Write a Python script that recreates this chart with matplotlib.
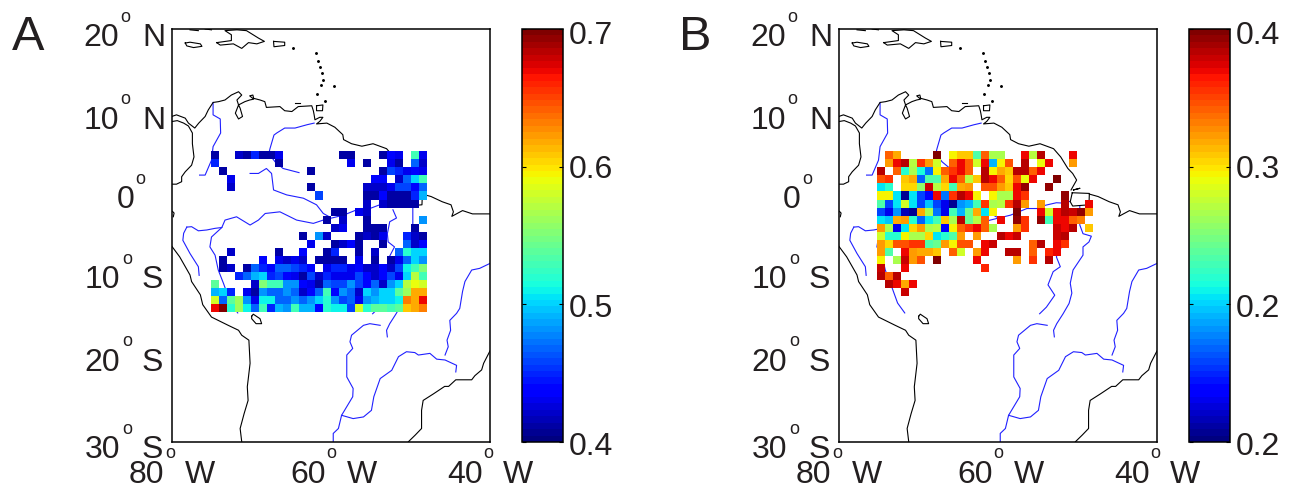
import numpy as np
import matplotlib
matplotlib.use('Agg')
import matplotlib.pyplot as plt

plt.rcParams['font.family'] = ['Liberation Sans', 'DejaVu Sans']

n = np.nan
W, H = 1298, 487
text_color = '#231f20'

# values per grid cell, north to south, west to east
values_a = [
    [.41,n,n,.42,.41,.45,.41,.41,.43,n,n,n,n,n,n,n,.41,.41,n,n,n,.41,.44,.43,n,.53,.43],
    [.45,n,n,n,n,n,n,n,.41,n,n,n,n,n,n,n,n,.43,n,.41,n,n,.43,.41,n,.47,.42],
    [n,.41,n,n,n,n,n,n,n,n,n,n,.41,n,n,n,n,n,n,n,n,.41,.46,.45,.43,.44,.43],
    [n,n,.43]+[n]*17+[.44,.44,n,.42,.47,.5,.53],
    [n,n,.42]+[n]*9+[.41]+[n]*6+[.42,.42,.42,.43,.46,.46,.44,.47],
    [n]*13+[.46]+[n]*5+[.41,.41,.44,.41,.41,.41,.45,.49],
    [n]*19+[.42,n,.42,.41,.41,.41,.41,n],
    [n]*15+[.41,.41,n,.43,.42]+[n]*7,
    [n]*14+[.41,n,.42,n,n,.41]+[n]*6+[.48],
    [n]*15+[.42,.43,n,n,.41,.41,.41,n,n,n,.41,n],
    [n]*11+[.41,n,.48,.42,n,n,n,.41,.42,.41,.43,n,n,.45,.42,.41],
    [n]*12+[.43,n,n,.41,.42,.44,.41,n,n,.41,n,n,.47,.42,.44],
    [n,n,.42,n,n,n,n,n,.41,n,n,.44,n,n,.41,.45,n,n,.41,n,.42,n,n,.47,.52,.5,.5],
    [n,.41,n,n,n,n,.44,n,.43,.42,.43,.42,n,.41,.41,.41,.41,n,.43,n,.41,n,.41,.43,.47,.5,.48],
    [n,.41,.42,n,.41,.47,.45,.44,.47,.47,.46,.45,.44,n,.43,.45,.45,.43,.44,.42,.42,.44,.42,.46,.51,.53,.55],
    [n,n,n,.45,.47,.49,.5,.45,.46,.44,.43,.41,.46,.42,.45,.43,.43,.43,.46,.44,.42,.44,.46,.43,.5,.57,.53],
    [.54,n,n,n,n,.42,.55,.53,.53,.48,.48,.44,.43,.41,.47,.46,.46,.48,.46,.44,.47,.42,.48,.5,.57,.59,.58],
    [.49,.5,.45,n,.43,.41,.48,.47,.47,.48,.47,.42,.44,.47,.53,.44,.48,.47,.42,.5,.48,.5,.5,.54,.56,.62,.62],
    [.58,.47,.54,.56,.48,.43,.51,.51,.47,.47,.48,.47,.48,.5,.52,.48,.46,.47,.43,.48,.49,.5,.5,.51,.63,.62,.67],
    [.67,.7,.52,.56,.51,.47,.53,.45,.49,.48,.53,.49,.49,.44,.52,.51,.51,.46,.58,.52,.54,.54,.53,.54,.61,.62,.63],
]

values_b = [
    [n,.36,.345,n,n,n,n,.4,n,.33,.34,.34,.29,.36,.31,.31,n,n,.38,.315,.39,n,n,n,.38,n,n],
    [n,.35,.38,.39,.315,.37,.35,.32,n,.36,.38,.36,.32,.38,.26,.33,.365,n,.39,n,.325,.38,n,n,.35,n,n],
    [.39,n,.36,.28,.31,.275,.25,.33,.36,.37,.38,.36,n,.39,.33,.345,.34,.39,.39,.36,.38]+[n]*6,
    [.365,.37,n,.34,.345,.245,.29,.29,.345,.38,.36,.315,.34,.39,.38,.36,.335,.365,.325,.38,n,n,.4,n,n,n,n],
    [.27,.28,n,.335,.335,.305,.385,.315,.335,.285,.345,.35,n,.365,.365,.35,.34,.38,.395,n,n,.395]+[n]*5,
    [.33,.33,.27,.205,.27,.24,.225,.38,.25,.37,.39,.38,.33,n,.33,.31,.31,.38,.37,n,n,n,n,.395,n,n,n],
    [.29,.24,.27,.32,.27,.24,.265,.24,.22,.205,.255,.26,.285,.37,.31,.315,.37,.39,.35,n,.35,n,n,.39,n,n,.38],
    [.24,.22,.255,.21,.205,.345,.31,.25,.22,.285,.26,.295,.345,.27,.33,n,n,.4,n,n,.38,.32,.38,.39,.385,.395,.35],
    [.27,.265,.345,.35,.28,.245,.27,.285,.34,.31,.39,.295,.315,.36,n,.38,n,.395,.37,n,.395,.285,.38,.38,.36,.355,n],
    [.35,.31,.22,.27,.335,.35,.31,.315,.225,.33,.36,.37,.38,.36,.31,n,n,.35,.37,n,n,n,.385,.38,.39,n,.34],
    [.32,.28,.28,.33,.31,.31,.335,.27,.28,.29,.35,n,.35,n,n,.39,.38,.385,n,n,n,n,.385,.39,n,n,n],
    [.35,.335,.365,.365,.37,.37,.29,.295,.35,.33,.365,.365,n,.38,.385,n,n,n,n,.36,.39,n,.38,.37,n,n,n],
    [.35,.29,n,.38,.35,.345,.345,.34,n,.36,.32,n,.35,.38,n,n,.39,.39,n,.36,n,.375,.38,n,n,n,n],
    [.33,n,.31,.385,.35,.365,n,.4,n,n,n,n,.38,n,n,n,n,.35,n,.37,n,.39,n,n,n,n,n],
    [.385,n,n,.38]+[n]*9+[.375]+[n]*13,
    [.39,.36,.39]+[n]*24,
    [n,.39,.38,.345,.38]+[n]*22,
    [n,n,n,.385]+[n]*23,
]

lon_edges_a = np.linspace(-75.06, -47.93, 28)
lon_edges_b = np.linspace(-75.14, -48.0, 28)
lat_edges = np.linspace(5.2, -14.34, 21)

# coastlines, lon/lat
north_coast = [(-80,9.4),(-79.4,9.6),(-78.3,9.2),(-77.9,8.6),(-77.1,8),(-76.6,8.6),(-75.8,9.4),(-75.4,10.2),
    (-74.8,11.1),(-74.1,11.2),(-73.3,11.4),(-72.5,12),(-71.6,12.4),(-71.2,12),(-71.8,11.4),(-71.6,10.8),
    (-72,9.8),(-71.6,9.1),(-71.1,9.4),(-71.4,10.4),(-71.6,10.8),(-70.8,11.2),(-70.2,11.4),(-69.7,11.5),
    (-70.2,11.9),(-69.8,12),(-69.7,11.6),(-68.9,11.4),(-68.3,11.2),(-68.1,10.5),(-66.4,10.6),(-65.8,10.1),
    (-64.9,10),(-64.1,10.6),(-62.4,10.7),(-62.2,10.1),(-62.1,9.6),(-62,9),(-61.4,9.3),(-61,9.3),(-61.4,8.8),
    (-61.8,8.5),(-60.5,8.6),(-59.5,8.1),(-58.5,7.2),(-58.4,6.6),(-57.4,6.1),(-56.1,5.8),(-54.7,6.1),(-53,5.5),
    (-52.1,4.5),(-51.2,3.1),(-50.6,2.5),(-50.1,1.7),(-50.8,0.5)]
brazil_north = [(-48.5,0),(-47.4,-0.3),(-46,-0.93),(-44.9,-1.3),(-44.6,-2.15),(-44.8,-2.7),(-43.45,-2),(-42.2,-2.4),(-40,-2.4)]
pacific_north = [(-79.9,8.8),(-79.3,8.9),(-78.5,8.6),(-77.9,8.25),(-77.4,7.4),(-77.4,6.1),(-77.2,4.5),(-77.5,3.5),
    (-78.3,2.7),(-78.75,2.1),(-78.75,1.5),(-79.4,1.2),(-80,1.2)]
ecuador_bit = [(-79.9,-2.1),(-79.7,-2.3),(-79.8,-2.75)]
pacific_south = [(-80,-6.3),(-79,-7.6),(-77.7,-9.8),(-77.5,-10.6),(-76.4,-12.2),(-76.1,-13.4),(-75,-14.9),(-72.9,-15.9),
    (-71.6,-16.5),(-71.2,-17.1),(-70.3,-17.7),(-70.15,-20.5),(-70.4,-22.55),(-70.5,-23.35),(-70.4,-25),(-70.9,-26.6),
    (-71.4,-28.4),(-71.2,-30)]
atlantic_south = [(-50.25,-30),(-49.4,-29.2),(-48.6,-28.4),(-48.6,-26.2),(-48.4,-25),(-47.1,-24.2),(-45.7,-23.3),
    (-45.2,-23.3),(-44.3,-22.5),(-42.3,-22.5),(-41.9,-22),(-41.05,-21.3),(-40.8,-20.5),(-40,-19)]
titicaca = [(-69.95,-14.8),(-69.75,-14.55),(-68.9,-15.1),(-68.7,-15.7),(-69.4,-15.7),(-69.95,-15.1),(-69.95,-14.8)]
marajo = [(-50.65,0.16),(-48.5,0.08),(-48.55,-1.3),(-50.6,-1.45),(-50.9,-0.93),(-50.65,0.16)]
mexiana = [(-50.5,0.5),(-49.7,0.7),(-50.5,0.5)]
jamaica = [(-78.3,18.3),(-77.7,18.4),(-76.4,18.2),(-76.2,17.9),(-77.25,17.75),(-78.1,17.95),(-78.3,18.3)]
hispaniola = [(-74.35,18.35),(-72.5,18.6),(-72.5,19.3),(-73.3,19.8),(-71.8,19.9),(-70.6,19.8),(-69.1,18.9),(-68.35,18.5),
    (-69.3,18.2),(-70.35,18.35),(-71.2,17.65),(-72.25,18.2),(-73.9,18.05),(-74.35,18.35)]
puerto_rico = [(-67.2,18.5),(-65.8,18.4),(-65.8,18),(-67.15,17.85),(-67.2,18.5)]
cuba_a = [(-77.7,19.9),(-76.65,19.8)]
cuba_b = [(-75.8,20),(-75,19.9)]
trinidad = [(-61.8,10.7),(-61,10.8),(-61.05,10.1),(-61.8,10.1),(-61.8,10.7)]
margarita = [(-64.5,11),(-63.9,11)]
coast_lines = [north_coast, brazil_north, pacific_north, ecuador_bit, pacific_south, atlantic_south, titicaca, marajo,
    mexiana, jamaica, hispaniola, puerto_rico, cuba_a, cuba_b, trinidad, margarita]

small_islands = [(-64.7,17.65),(-61.9,17.05),(-61.6,16.15),(-61.4,15.35),(-61.05,14.7),(-60.95,13.8),(-61.25,13.2),
    (-59.6,13.15),(-61.8,12.1),(-60.75,11.3)]

# rivers, lon/lat
magdalena = [(-74.8,11.1),(-74.8,9.6),(-73.9,9.1),(-73.85,7.4),(-74.8,5.75),(-75,4.1),(-75.8,2.3),(-76.5,2.3)]
orinoco = [(-62.1,8.6),(-63,8.4),(-64.5,8),(-65.8,8),(-66.8,7.4),(-67.15,7.15),(-67.65,5.5),(-67.8,4.9),(-67,3.9),(-66,3.1),(-64,2.6)]
rio_negro = [(-70.15,2.5),(-69.1,2.5),(-68.1,3.1),(-67.45,2.5),(-67.2,0.5),(-65.55,-0.1),(-63.45,-0.5),(-61.8,-1.3),(-60.95,-2.35),(-60.1,-2.8)]
amazon = [(-78.1,-4),(-77.5,-3.95),(-76.65,-4.45),(-75.6,-4.35),(-74.55,-4.15),(-73.7,-4.05),(-73.3,-3.15),(-71.85,-2.75),
    (-70.15,-3.75),(-69.1,-3.15),(-68.25,-2.35),(-66.4,-2.15),(-64.3,-3.15),(-62.2,-3.55),(-60.95,-3.15),(-58.4,-2.55),
    (-56.35,-1.75),(-55.1,-1.75),(-54,-1.35),(-52.65,-1.05),(-51.6,-1.1),(-51,-0.9)]
maranon = [(-78.1,-4),(-78.5,-4.75),(-78.6,-5.6),(-77.7,-7.2),(-76.65,-8.8),(-76.55,-9.85)]
ucayali = [(-73.7,-4.05),(-75,-5.2),(-75.2,-6.4),(-74.55,-7.4),(-74.15,-9.2),(-73.5,-10.8),(-72.6,-13.2),(-71.7,-14.4)]
tocantins = [(-49.7,-1.5),(-49.7,-3.75),(-49.3,-4.8),(-48.25,-5.1),(-48.55,-5.8),(-49.3,-6.4),(-49.3,-7.4),(-50.55,-9.2),
    (-50.9,-10.8),(-50.7,-12),(-51.05,-13.25),(-51.8,-14.5),(-52.6,-15.7),(-53,-16.5),(-52.9,-17.3)]
xingu = [(-52.2,-1.9),(-51.75,-2.9),(-52.6,-3.35),(-52.9,-4.8),(-52.8,-5.8),(-52,-6.4),(-52.65,-7.6),(-52.15,-8.8),(-53.05,-9.4),
    (-53.7,-11),(-52.85,-12.25),(-53.9,-13.7),(-54.75,-14.5)]
sao_francisco = [(-40,-8.4),(-41.3,-9),(-42.3,-9.2),(-43.15,-10.6),(-43.45,-11.8),(-43.8,-13.85),(-44.2,-14.45),(-45.05,-15.3),
    (-44.95,-16.5),(-45.4,-17.7),(-45.25,-18.5),(-45.65,-19.5)]
paraguay = [(-53.8,-15.9),(-55.1,-15.7),(-55.9,-15.9),(-57.4,-17.1),(-57.6,-17.9),(-57.25,-18.7),(-58,-19.5),(-58,-22.15),
    (-57.2,-23.55),(-57.25,-24.55),(-58.65,-26.8),(-59.05,-28.4),(-59.7,-29),(-59.7,-30)]
parana = [(-58.65,-26.8),(-57.2,-27.2),(-55.9,-27),(-54.9,-26.2),(-54.6,-24.55),(-53.8,-22.35),(-52.35,-21.35),(-51.5,-19.7),
    (-50.5,-19.1),(-49.45,-19.2),(-49,-19.5),(-47.55,-19.3),(-46.7,-20),(-45.65,-20.1),(-44.2,-20.75),(-44.3,-21.55)]
river_lines = [magdalena, orinoco, rio_negro, amazon, maranon, ucayali, tocantins, xingu, sao_francisco, paraguay, parana]

lat_labels = [('20', 'N', 46, 119, 125, 17), ('10', 'N', 129, 119, 125, 100), ('10', 'S', 288, 120, 127, 259),
              ('20', 'S', 371, 120, 127, 342), ('30', 'S', 458, 120, 127, 430)]
lon_labels = [('80', 164, 170, 185), ('60', 326, 331, 347), ('40', 483, 488, 503)]


def px_text(x, y, s, size=23, ha='left', va='baseline'):
    # position given in picture pixels, y counted from the top
    fig.text(x / W, 1 - y / H, s, fontsize=size, ha=ha, va=va, color=text_color)


def draw_panel(dx, values, lon_edges, lat_e, vmin, vmax, letter, cb_ticks, cb_labels):
    ax = fig.add_axes([(171.7 + dx) / W, 1 - 441.7 / H, 318.3 / W, 412.7 / H])
    cmap = plt.get_cmap('jet', 64)
    mesh = ax.pcolormesh(lon_edges, lat_e, np.ma.masked_invalid(np.array(values)), cmap=cmap, vmin=vmin, vmax=vmax, zorder=2)
    for line in river_lines:
        ax.plot([p[0] for p in line], [p[1] for p in line], color='#2020ff', lw=0.8, zorder=1)
    for line in coast_lines:
        ax.plot([p[0] for p in line], [p[1] for p in line], color='black', lw=0.8, zorder=1)
    ax.plot([p[0] for p in small_islands], [p[1] for p in small_islands], ls='none', marker='o', ms=1.1, color='black', zorder=1)
    ax.set_xlim(-80, -40)
    ax.set_ylim(-30, 20)
    ax.set_xticks([])
    ax.set_yticks([])
    for s in ax.spines.values():
        s.set_linewidth(1.1)

    cax = fig.add_axes([(522 + dx) / W, 1 - 442 / H, 41 / W, 413 / H])
    cbar = fig.colorbar(mesh, cax=cax, ticks=cb_ticks)
    cbar.outline.set_linewidth(1.1)
    cax.tick_params(direction='in', left=True, right=True, labelright=False, length=3, width=0.8)
    cax.minorticks_off()
    for y, s in zip([455, 317, 178, 44], cb_labels):
        px_text(569 + dx, y, s)

    px_text(12 + dx, 50, letter, size=35)
    for num, hemi, base, right, deg_x, deg_y in lat_labels:
        px_text(right + dx, base, num, ha='right')
        px_text(deg_x + dx, deg_y, 'o', size=13, ha='center', va='center')
        px_text(142 + dx, base, hemi)
    px_text(134 + dx, 208, '0', ha='right')
    px_text(140 + dx, 180, 'o', size=13, ha='center', va='center')
    for num, right, deg_x, left in lon_labels:
        px_text(right + dx, 483, num, ha='right')
        px_text(deg_x + dx, 454, 'o', size=13, ha='center', va='center')
        px_text(left + dx, 483, 'W')


fig = plt.figure(figsize=(W / 100, H / 100), dpi=100)
draw_panel(0, values_a, lon_edges_a, lat_edges, 0.4, 0.7, 'A', [0.4, 0.5, 0.6, 0.7], ['0.4', '0.5', '0.6', '0.7'])
draw_panel(667, values_b, lon_edges_b, lat_edges[:19], 0.2, 0.4, 'B', [0.2, 0.2667, 0.3333, 0.4], ['0.2', '0.2', '0.3', '0.4'])
fig.savefig('out.png', dpi=100)
